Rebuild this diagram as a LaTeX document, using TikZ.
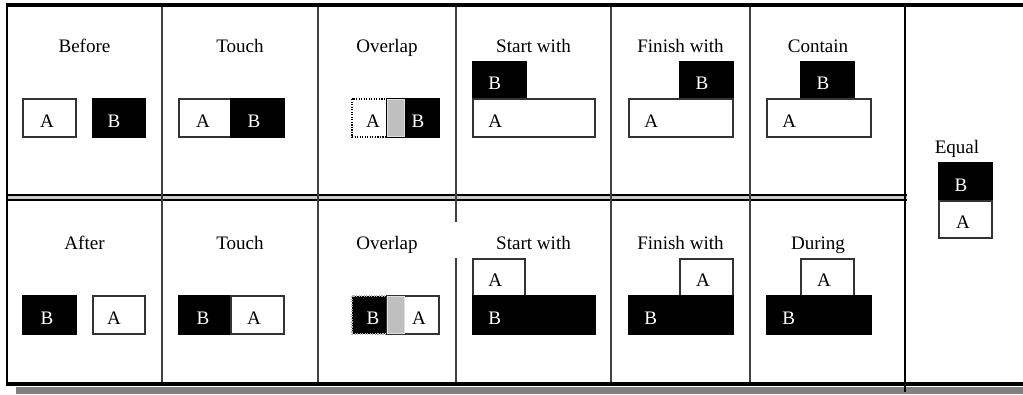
\documentclass[tikz,border=0pt]{standalone}
\usepackage{fontspec}
\setmainfont{Liberation Serif}
\usepackage{tikz}
\usepackage{xcolor}

\begin{document}
\begin{tikzpicture}[x=0.75pt,y=-0.75pt,
  every node/.style={font=\fontsize{14.3pt}{17pt}\selectfont,inner sep=0pt},
  wbox/.style={fill=white,draw=black!80,line width=0.8pt},
  bbox/.style={fill=black,draw=black,line width=0.8pt},
  dbox/.style={draw=black,line width=0.9pt,densely dotted},
  gbox/.style={fill=gray!50,draw=gray!25,line width=0.6pt},
  lbl/.style={anchor=base},
  llbl/.style={anchor=base west},
  inv/.style={text=white},
  cell/.style={draw=black!75,line width=1.1pt}]
\useasboundingbox (0,0) rectangle (1023,394);
% frame and shadow
\fill[gray] (16,387) rectangle (1023,394);
\fill[gray!40] (7,196) rectangle (907,199);
\draw[line width=1.5pt] (7,195) -- (907,195);
\draw[line width=1.5pt] (7,200) -- (907,200);
\draw[cell] (162,5) -- (162,384);
\draw[cell] (318,5) -- (318,384);
\draw[cell] (456,5) -- (456,222);
\draw[cell] (456,258) -- (456,384);
\draw[cell] (611,5) -- (611,384);
\draw[cell] (750,5) -- (750,384);
\draw[black,line width=1.1pt] (905,5) -- (905,392);
\draw[line width=2pt] (7,3.5) -- (7,386);
\draw[line width=3pt] (6,5) -- (1023,5);
\draw[line width=3pt] (6,384) -- (1023,384);
% titles
\node[lbl] (tBefore) at (84.5,52) {Before};
\node[lbl] (tTouch) at (240,52) {Touch};
\node[lbl] (tOverlap) at (387,52) {Overlap};
\node[lbl] (tStart) at (533.5,52) {Start with};
\node[lbl] (tFinish) at (680.5,52) {Finish with};
\node[lbl] (tContain) at (818,52) {Contain};
\node[lbl] (tAfter) at (84.5,249) {After};
\node[lbl] (tTouchB) at (240,249) {Touch};
\node[lbl] (tOverlapB) at (387,249) {Overlap};
\node[lbl] (tStartB) at (533.5,249) {Start with};
\node[lbl] (tFinishB) at (680.5,249) {Finish with};
\node[lbl] (tDuring) at (818,249) {During};
\node[lbl] (tEqual) at (957,153) {Equal};
% before / after
\draw[wbox] (23,99) rectangle (76,137);
\node[lbl] (bfA) at (47,127) {A};
\draw[bbox] (93,99) rectangle (145,137);
\node[lbl,inv] (bfB) at (114,127) {B};
\draw[bbox] (23,296) rectangle (76,334);
\node[lbl,inv] (afB) at (47,324) {B};
\draw[wbox] (93,296) rectangle (145,334);
\node[lbl] (afA) at (114,324) {A};
% touch
\draw[wbox] (179,99) rectangle (231,137);
\node[lbl] (tcA) at (203,127) {A};
\draw[bbox] (231,99) rectangle (284,137);
\node[lbl,inv] (tcB) at (254,127) {B};
\draw[bbox] (179,296) rectangle (231,334);
\node[lbl,inv] (tdB) at (203,324) {B};
\draw[wbox] (231,296) rectangle (284,334);
\node[lbl] (tdA) at (254,324) {A};
% overlap
\fill[white] (352,99) rectangle (404,137);
\draw[dbox] (352,99) rectangle (404,137);
\draw[bbox] (387,99) rectangle (439,137);
\draw[gbox] (387,99.5) rectangle (404,136.5);
\node[lbl] (ovA) at (373,127) {A};
\node[lbl,inv] (ovB) at (418,127) {B};
\fill[black] (352,296) rectangle (404,334);
\draw[dbox,draw=gray!60] (352,296) rectangle (404,334);
\draw[wbox] (387,296) rectangle (439,334);
\draw[gbox] (387,296.5) rectangle (404,333.5);
\node[lbl,inv] (owB) at (373,324) {B};
\node[lbl] (owA) at (419,324) {A};
% start with
\draw[bbox] (473,62) rectangle (526,99);
\node[llbl,inv] (stB) at (488,89) {B};
\draw[wbox] (473,99) rectangle (595,137);
\node[llbl] (stA) at (488,127) {A};
\draw[wbox] (473,259) rectangle (525,296);
\node[llbl] (suA) at (488,286) {A};
\draw[bbox] (473,296) rectangle (595,334);
\node[llbl,inv] (suB) at (488,324) {B};
% finish with
\draw[bbox] (680,62) rectangle (733,99);
\node[lbl,inv] (fnB) at (702,89) {B};
\draw[wbox] (629,99) rectangle (733,137);
\node[llbl] (fnA) at (644,127) {A};
\draw[wbox] (680,259) rectangle (733,296);
\node[lbl] (foA) at (703,286) {A};
\draw[bbox] (629,296) rectangle (733,334);
\node[llbl,inv] (foB) at (644,324) {B};
% contain / during
\draw[bbox] (801,62) rectangle (854,99);
\node[lbl,inv] (ctB) at (823,89) {B};
\draw[wbox] (767,99) rectangle (871,137);
\node[llbl] (ctA) at (782,127) {A};
\draw[wbox] (801,259) rectangle (854,296);
\node[lbl] (drA) at (824,286) {A};
\draw[bbox] (767,296) rectangle (871,334);
\node[llbl,inv] (drB) at (782,324) {B};
% equal
\draw[bbox] (939,163) rectangle (992,201);
\node[lbl,inv] (eqB) at (961,191) {B};
\draw[wbox] (939,201) rectangle (992,238);
\node[lbl] (eqA) at (963,228) {A};
\end{tikzpicture}
\end{document}
